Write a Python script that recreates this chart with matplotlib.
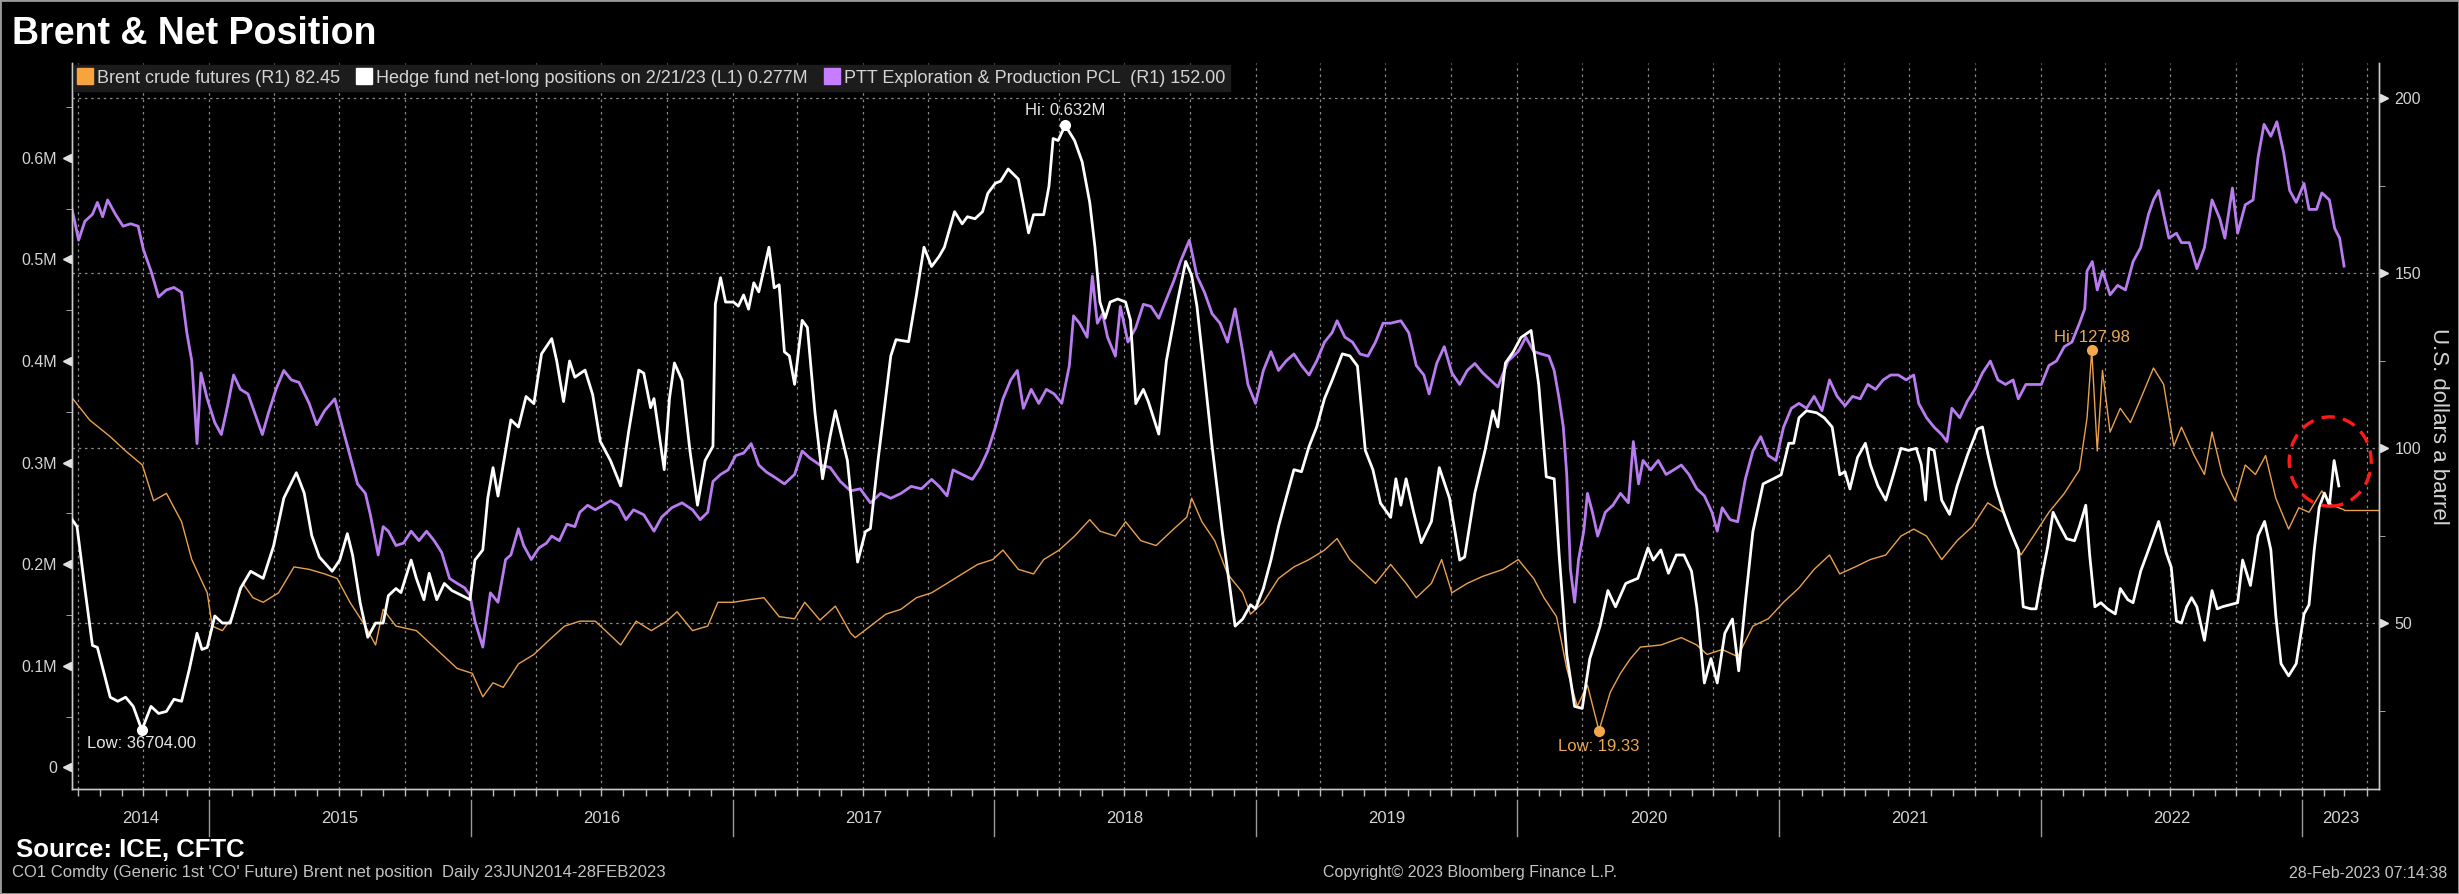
import matplotlib
matplotlib.use("Agg")
import matplotlib.pyplot as plt
import matplotlib.dates as mdates
from matplotlib.patches import Ellipse, Rectangle
from matplotlib.lines import Line2D
from matplotlib.ticker import NullFormatter, FixedLocator
from matplotlib.transforms import ScaledTranslation
from datetime import datetime, timedelta

plt.rcParams['font.family'] = ['Liberation Sans', 'DejaVu Sans']

# dates are decimal years
brent_t = [2014.475, 2014.543, 2014.621, 2014.680, 2014.744, 2014.787, 2014.836, 2014.894, 2014.933, 2014.992,
           2015.011, 2015.050, 2015.089, 2015.128, 2015.167, 2015.206, 2015.265, 2015.324, 2015.382, 2015.441,
           2015.489, 2015.538, 2015.597, 2015.636, 2015.665, 2015.714, 2015.792, 2015.870, 2015.948, 2016.006,
           2016.046, 2016.085, 2016.124, 2016.182, 2016.241, 2016.299, 2016.358, 2016.416, 2016.475, 2016.514,
           2016.572, 2016.631, 2016.689, 2016.748, 2016.787, 2016.846, 2016.904, 2016.943, 2017.002, 2017.060,
           2017.119, 2017.177, 2017.236, 2017.275, 2017.333, 2017.392, 2017.450, 2017.468, 2017.526, 2017.585,
           2017.643, 2017.702, 2017.760, 2017.819, 2017.877, 2017.936, 2017.994, 2018.033, 2018.092, 2018.150,
           2018.189, 2018.248, 2018.307, 2018.365, 2018.404, 2018.463, 2018.502, 2018.560, 2018.619, 2018.677,
           2018.736, 2018.755, 2018.794, 2018.843, 2018.892, 2018.950, 2018.980, 2019.029, 2019.087, 2019.146,
           2019.204, 2019.263, 2019.311, 2019.360, 2019.419, 2019.458, 2019.516, 2019.575, 2019.614, 2019.672,
           2019.711, 2019.750, 2019.809, 2019.868, 2019.946, 2020.004, 2020.063, 2020.102, 2020.150, 2020.189,
           2020.229, 2020.268, 2020.312, 2020.355, 2020.394, 2020.431, 2020.470, 2020.548, 2020.626, 2020.685,
           2020.724, 2020.782, 2020.841, 2020.899, 2020.958, 2021.016, 2021.075, 2021.133, 2021.192, 2021.231,
           2021.290, 2021.348, 2021.407, 2021.465, 2021.514, 2021.563, 2021.621, 2021.680, 2021.738, 2021.797,
           2021.855, 2021.924, 2021.972, 2022.031, 2022.090, 2022.148, 2022.177, 2022.195, 2022.216, 2022.236,
           2022.265, 2022.304, 2022.343, 2022.382, 2022.431, 2022.470, 2022.509, 2022.538, 2022.587, 2022.626,
           2022.655, 2022.694, 2022.743, 2022.782, 2022.821, 2022.860, 2022.899, 2022.948, 2022.987, 2023.026,
           2023.075, 2023.114, 2023.159]
brent_v = [114.4, 108.0, 103.3, 99.2, 95.2, 85.0, 87.1, 79.0, 68.2, 58.7,
           49.2, 47.9, 51.9, 61.4, 57.3, 56.0, 58.7, 66.1, 65.4, 64.1,
           62.8, 56.0, 49.2, 43.8, 54.0, 49.2, 47.9, 42.5, 37.1, 35.7,
           29.0, 33.0, 31.7, 38.4, 41.1, 45.2, 49.2, 50.6, 50.6, 47.9,
           43.8, 50.6, 47.9, 50.6, 53.3, 47.9, 49.2, 56.0, 56.0, 56.7,
           57.3, 51.9, 51.3, 56.0, 50.9, 54.9, 47.2, 45.9, 49.2, 52.6,
           54.0, 57.3, 58.7, 61.4, 64.1, 66.8, 68.2, 70.9, 65.4, 64.1,
           68.2, 70.9, 74.9, 79.6, 76.3, 74.9, 79.0, 73.6, 72.2, 76.3,
           80.3, 85.7, 79.0, 73.6, 64.1, 58.7, 52.6, 56.0, 62.8, 66.1,
           68.2, 70.9, 74.2, 68.2, 64.1, 61.4, 66.8, 61.4, 57.3, 61.4,
           68.2, 58.7, 61.4, 63.4, 65.4, 68.2, 62.8, 57.3, 51.9, 37.1,
           26.3, 32.3, 19.33, 30.3, 35.7, 39.8, 43.2, 43.8, 45.9, 43.8,
           41.1, 42.5, 40.5, 49.2, 51.3, 56.0, 60.1, 65.4, 69.5, 64.1,
           66.1, 68.2, 69.5, 74.9, 76.9, 74.9, 68.2, 73.6, 77.6, 84.4,
           81.7, 69.5, 74.9, 81.7, 87.1, 93.8, 108.7, 127.98, 99.2, 122.2,
           104.6, 111.4, 107.3, 114.1, 122.9, 118.2, 100.6, 106.0, 97.9, 92.5,
           104.6, 92.5, 85.0, 95.2, 92.5, 97.9, 85.7, 76.9, 83.0, 81.7,
           87.8, 83.7, 82.45]

hedge_t = [2014.475, 2014.494, 2014.524, 2014.553, 2014.572, 2014.621, 2014.650, 2014.680, 2014.709, 2014.742,
           2014.777, 2014.806, 2014.836, 2014.865, 2014.894, 2014.924, 2014.953, 2014.972, 2014.992, 2015.021,
           2015.050, 2015.080, 2015.119, 2015.158, 2015.206, 2015.246, 2015.285, 2015.333, 2015.363, 2015.392,
           2015.421, 2015.470, 2015.499, 2015.528, 2015.548, 2015.577, 2015.606, 2015.636, 2015.665, 2015.685,
           2015.714, 2015.733, 2015.772, 2015.792, 2015.821, 2015.841, 2015.870, 2015.899, 2015.928, 2015.967,
           2015.997, 2016.016, 2016.046, 2016.065, 2016.085, 2016.104, 2016.124, 2016.153, 2016.182, 2016.211,
           2016.241, 2016.270, 2016.309, 2016.328, 2016.354, 2016.377, 2016.397, 2016.436, 2016.465, 2016.494,
           2016.533, 2016.572, 2016.602, 2016.641, 2016.660, 2016.686, 2016.699, 2016.738, 2016.758, 2016.777,
           2016.806, 2016.836, 2016.865, 2016.894, 2016.924, 2016.933, 2016.953, 2016.972, 2017.002, 2017.021,
           2017.041, 2017.060, 2017.080, 2017.099, 2017.138, 2017.158, 2017.177, 2017.197, 2017.216, 2017.236,
           2017.265, 2017.285, 2017.314, 2017.343, 2017.372, 2017.392, 2017.438, 2017.477, 2017.507, 2017.526,
           2017.555, 2017.604, 2017.624, 2017.672, 2017.702, 2017.731, 2017.760, 2017.789, 2017.809, 2017.848,
           2017.877, 2017.897, 2017.926, 2017.955, 2017.975, 2018.004, 2018.024, 2018.053, 2018.092, 2018.111,
           2018.131, 2018.150, 2018.189, 2018.209, 2018.225, 2018.244, 2018.271, 2018.307, 2018.336, 2018.365,
           2018.385, 2018.404, 2018.424, 2018.443, 2018.472, 2018.502, 2018.521, 2018.541, 2018.570, 2018.589,
           2018.629, 2018.658, 2018.697, 2018.732, 2018.755, 2018.775, 2018.804, 2018.833, 2018.872, 2018.921,
           2018.950, 2018.980, 2018.999, 2019.029, 2019.058, 2019.087, 2019.116, 2019.146, 2019.175, 2019.204,
           2019.233, 2019.263, 2019.292, 2019.331, 2019.360, 2019.389, 2019.419, 2019.448, 2019.477, 2019.516,
           2019.536, 2019.555, 2019.575, 2019.604, 2019.633, 2019.672, 2019.702, 2019.741, 2019.780, 2019.799,
           2019.838, 2019.877, 2019.907, 2019.926, 2019.955, 2019.985, 2020.014, 2020.053, 2020.082, 2020.111,
           2020.141, 2020.160, 2020.189, 2020.219, 2020.248, 2020.277, 2020.316, 2020.346, 2020.375, 2020.414,
           2020.460, 2020.499, 2020.519, 2020.548, 2020.577, 2020.607, 2020.636, 2020.665, 2020.685, 2020.714,
           2020.739, 2020.763, 2020.792, 2020.821, 2020.845, 2020.870, 2020.899, 2020.938, 2020.977, 2021.007,
           2021.036, 2021.055, 2021.075, 2021.104, 2021.143, 2021.172, 2021.202, 2021.231, 2021.251, 2021.270,
           2021.299, 2021.329, 2021.348, 2021.377, 2021.407, 2021.436, 2021.465, 2021.494, 2021.524, 2021.543,
           2021.559, 2021.572, 2021.592, 2021.621, 2021.651, 2021.680, 2021.719, 2021.758, 2021.777, 2021.797,
           2021.826, 2021.855, 2021.885, 2021.914, 2021.933, 2021.963, 2021.982, 2022.008, 2022.027, 2022.047,
           2022.070, 2022.099, 2022.129, 2022.148, 2022.172, 2022.187, 2022.207, 2022.230, 2022.255, 2022.285,
           2022.304, 2022.333, 2022.353, 2022.382, 2022.412, 2022.451, 2022.480, 2022.499, 2022.519, 2022.538,
           2022.558, 2022.577, 2022.597, 2022.626, 2022.655, 2022.675, 2022.694, 2022.724, 2022.753, 2022.772,
           2022.802, 2022.831, 2022.856, 2022.880, 2022.899, 2022.919, 2022.948, 2022.977, 2023.007, 2023.026,
           2023.046, 2023.065, 2023.085, 2023.104, 2023.122, 2023.140]
hedge_v = [0.244, 0.237, 0.176, 0.120, 0.118, 0.069, 0.065, 0.069, 0.060, 0.0367,
           0.060, 0.053, 0.055, 0.067, 0.065, 0.097, 0.132, 0.116, 0.118, 0.149,
           0.142, 0.142, 0.176, 0.193, 0.186, 0.218, 0.265, 0.290, 0.270, 0.228,
           0.207, 0.193, 0.204, 0.230, 0.209, 0.162, 0.128, 0.142, 0.142, 0.169,
           0.176, 0.172, 0.204, 0.186, 0.165, 0.191, 0.165, 0.181, 0.174, 0.169,
           0.165, 0.204, 0.214, 0.265, 0.295, 0.267, 0.298, 0.342, 0.335, 0.365,
           0.358, 0.407, 0.422, 0.400, 0.360, 0.400, 0.384, 0.391, 0.367, 0.321,
           0.302, 0.277, 0.330, 0.391, 0.388, 0.354, 0.363, 0.293, 0.363, 0.398,
           0.381, 0.312, 0.258, 0.302, 0.316, 0.456, 0.482, 0.458, 0.458, 0.454,
           0.465, 0.451, 0.477, 0.468, 0.512, 0.472, 0.475, 0.409, 0.405, 0.377,
           0.440, 0.433, 0.349, 0.284, 0.326, 0.351, 0.302, 0.202, 0.232, 0.235,
           0.302, 0.405, 0.421, 0.419, 0.465, 0.512, 0.493, 0.503, 0.512, 0.547,
           0.535, 0.542, 0.540, 0.547, 0.565, 0.575, 0.577, 0.589, 0.579, 0.554,
           0.526, 0.544, 0.544, 0.572, 0.619, 0.617, 0.632, 0.617, 0.596, 0.556,
           0.512, 0.458, 0.442, 0.458, 0.461, 0.458, 0.440, 0.358, 0.372, 0.360,
           0.328, 0.400, 0.454, 0.498, 0.484, 0.454, 0.386, 0.316, 0.232, 0.139,
           0.146, 0.160, 0.156, 0.176, 0.204, 0.237, 0.265, 0.293, 0.291, 0.316,
           0.335, 0.363, 0.381, 0.407, 0.405, 0.395, 0.312, 0.293, 0.260, 0.246,
           0.284, 0.258, 0.284, 0.251, 0.221, 0.242, 0.295, 0.265, 0.204, 0.207,
           0.270, 0.312, 0.351, 0.335, 0.398, 0.409, 0.423, 0.430, 0.377, 0.286,
           0.284, 0.209, 0.111, 0.060, 0.058, 0.107, 0.139, 0.174, 0.158, 0.181,
           0.186, 0.216, 0.204, 0.214, 0.191, 0.209, 0.209, 0.193, 0.158, 0.083,
           0.107, 0.083, 0.132, 0.146, 0.095, 0.162, 0.232, 0.279, 0.284, 0.288,
           0.319, 0.319, 0.344, 0.351, 0.349, 0.344, 0.335, 0.288, 0.291, 0.274,
           0.305, 0.319, 0.298, 0.277, 0.263, 0.288, 0.314, 0.312, 0.314, 0.298,
           0.263, 0.314, 0.312, 0.263, 0.249, 0.277, 0.307, 0.333, 0.335, 0.309,
           0.277, 0.253, 0.232, 0.214, 0.158, 0.156, 0.156, 0.193, 0.218, 0.251,
           0.239, 0.225, 0.223, 0.237, 0.258, 0.209, 0.158, 0.162, 0.156, 0.151,
           0.176, 0.165, 0.162, 0.193, 0.214, 0.242, 0.211, 0.197, 0.144, 0.142,
           0.158, 0.167, 0.158, 0.125, 0.174, 0.156, 0.158, 0.160, 0.162, 0.204,
           0.179, 0.228, 0.242, 0.214, 0.149, 0.102, 0.090, 0.102, 0.151, 0.160,
           0.214, 0.256, 0.270, 0.258, 0.302, 0.277]

ptt_t = [2014.475, 2014.485, 2014.500, 2014.524, 2014.553, 2014.572, 2014.592, 2014.611, 2014.641, 2014.670,
         2014.699, 2014.728, 2014.748, 2014.777, 2014.806, 2014.836, 2014.865, 2014.894, 2014.914, 2014.933,
         2014.953, 2014.968, 2014.992, 2015.021, 2015.046, 2015.070, 2015.093, 2015.119, 2015.148, 2015.177,
         2015.203, 2015.226, 2015.255, 2015.285, 2015.314, 2015.343, 2015.382, 2015.411, 2015.441, 2015.480,
         2015.509, 2015.538, 2015.567, 2015.597, 2015.616, 2015.646, 2015.665, 2015.685, 2015.714, 2015.743,
         2015.772, 2015.802, 2015.831, 2015.860, 2015.889, 2015.919, 2015.948, 2015.977, 2015.997, 2016.016,
         2016.046, 2016.075, 2016.104, 2016.133, 2016.153, 2016.182, 2016.202, 2016.231, 2016.260, 2016.289,
         2016.309, 2016.338, 2016.367, 2016.397, 2016.416, 2016.446, 2016.475, 2016.504, 2016.533, 2016.563,
         2016.592, 2016.621, 2016.660, 2016.699, 2016.728, 2016.767, 2016.806, 2016.846, 2016.875, 2016.904,
         2016.924, 2016.953, 2016.982, 2017.011, 2017.041, 2017.070, 2017.099, 2017.128, 2017.158, 2017.197,
         2017.236, 2017.265, 2017.294, 2017.333, 2017.372, 2017.411, 2017.450, 2017.487, 2017.526, 2017.565,
         2017.604, 2017.643, 2017.682, 2017.721, 2017.760, 2017.789, 2017.819, 2017.842, 2017.877, 2017.916,
         2017.946, 2017.975, 2018.004, 2018.033, 2018.063, 2018.088, 2018.111, 2018.141, 2018.170, 2018.199,
         2018.229, 2018.258, 2018.287, 2018.303, 2018.326, 2018.355, 2018.375, 2018.394, 2018.414, 2018.433,
         2018.463, 2018.482, 2018.511, 2018.541, 2018.570, 2018.599, 2018.629, 2018.658, 2018.687, 2018.712,
         2018.746, 2018.775, 2018.804, 2018.833, 2018.863, 2018.892, 2018.921, 2018.950, 2018.970, 2018.999,
         2019.029, 2019.058, 2019.087, 2019.116, 2019.146, 2019.175, 2019.204, 2019.233, 2019.263, 2019.292,
         2019.311, 2019.341, 2019.370, 2019.399, 2019.429, 2019.458, 2019.487, 2019.516, 2019.555, 2019.585,
         2019.614, 2019.643, 2019.663, 2019.692, 2019.721, 2019.750, 2019.780, 2019.809, 2019.838, 2019.868,
         2019.897, 2019.926, 2019.965, 2020.004, 2020.033, 2020.063, 2020.092, 2020.121, 2020.141, 2020.160,
         2020.176, 2020.189, 2020.203, 2020.219, 2020.234, 2020.254, 2020.268, 2020.287, 2020.307, 2020.336,
         2020.365, 2020.394, 2020.424, 2020.443, 2020.463, 2020.480, 2020.509, 2020.538, 2020.568, 2020.597,
         2020.626, 2020.655, 2020.685, 2020.714, 2020.743, 2020.763, 2020.782, 2020.812, 2020.841, 2020.870,
         2020.899, 2020.929, 2020.958, 2020.987, 2021.016, 2021.046, 2021.075, 2021.104, 2021.133, 2021.163,
         2021.192, 2021.221, 2021.251, 2021.280, 2021.309, 2021.338, 2021.368, 2021.397, 2021.426, 2021.455,
         2021.485, 2021.514, 2021.533, 2021.563, 2021.592, 2021.621, 2021.641, 2021.660, 2021.690, 2021.719,
         2021.748, 2021.777, 2021.807, 2021.836, 2021.865, 2021.894, 2021.914, 2021.943, 2021.972, 2022.002,
         2022.031, 2022.060, 2022.090, 2022.119, 2022.148, 2022.168, 2022.177, 2022.197, 2022.216, 2022.236,
         2022.265, 2022.294, 2022.324, 2022.353, 2022.382, 2022.412, 2022.431, 2022.451, 2022.470, 2022.490,
         2022.519, 2022.538, 2022.568, 2022.597, 2022.626, 2022.655, 2022.685, 2022.704, 2022.733, 2022.753,
         2022.782, 2022.812, 2022.831, 2022.854, 2022.880, 2022.903, 2022.929, 2022.952, 2022.977, 2023.007,
         2023.026, 2023.055, 2023.075, 2023.104, 2023.124, 2023.143, 2023.160]
ptt_v = [168.2, 164.8, 159.4, 164.8, 166.8, 170.2, 166.1, 170.9, 166.8, 163.4,
         164.1, 163.4, 156.7, 150.6, 143.2, 145.2, 145.9, 144.5, 133.0, 124.9,
         101.3, 121.5, 114.1, 107.3, 103.9, 112.1, 120.9, 116.8, 115.5, 109.4,
         103.9, 110.0, 116.8, 122.2, 119.5, 118.8, 112.8, 106.7, 110.7, 114.1,
         106.0, 97.9, 89.8, 87.1, 81.0, 69.5, 77.6, 76.3, 72.2, 72.9,
         76.3, 73.6, 76.3, 73.6, 70.2, 62.8, 61.4, 60.1, 58.0, 50.6,
         43.2, 58.7, 56.0, 68.2, 69.5, 77.0, 72.2, 68.2, 71.5, 72.9,
         74.9, 73.6, 78.3, 77.6, 81.7, 83.7, 82.4, 83.7, 85.0, 83.7,
         79.6, 82.4, 81.0, 76.3, 80.3, 83.0, 84.4, 82.4, 79.6, 81.7,
         90.5, 92.5, 93.8, 97.9, 98.6, 101.3, 95.2, 93.2, 91.8, 89.8,
         92.5, 99.2, 97.2, 95.2, 94.5, 90.5, 87.8, 88.4, 84.4, 87.1,
         85.7, 87.1, 89.1, 88.4, 91.1, 89.1, 86.4, 93.8, 92.5, 91.1,
         94.5, 99.2, 106.0, 114.1, 119.5, 122.2, 111.4, 116.8, 112.8, 116.8,
         115.5, 112.8, 123.6, 137.8, 135.7, 131.7, 149.2, 135.7, 138.4, 131.7,
         126.3, 140.5, 130.3, 134.4, 141.1, 140.5, 137.1, 142.5, 147.9, 153.3,
         159.4, 149.2, 144.5, 138.4, 135.7, 130.3, 139.8, 127.6, 118.2, 112.8,
         122.2, 127.6, 122.2, 124.9, 126.9, 123.6, 120.9, 124.9, 130.3, 133.0,
         136.4, 131.7, 130.3, 126.9, 126.3, 130.3, 135.7, 135.7, 136.4, 133.0,
         123.6, 120.9, 115.5, 124.2, 129.0, 121.5, 118.2, 122.2, 124.2, 121.5,
         119.5, 117.5, 124.9, 127.6, 131.7, 127.6, 126.9, 126.3, 122.2, 114.1,
         106.0, 92.5, 65.4, 56.0, 68.2, 76.3, 87.1, 81.7, 74.9, 81.7,
         83.7, 87.1, 84.4, 101.9, 89.8, 96.5, 93.8, 96.5, 92.5, 93.8,
         95.2, 92.5, 88.4, 86.4, 81.7, 76.3, 83.0, 79.6, 79.0, 91.1,
         99.2, 103.3, 97.9, 96.5, 106.0, 111.4, 112.8, 111.4, 114.8, 110.7,
         119.5, 114.8, 112.1, 114.8, 114.1, 118.2, 116.8, 119.5, 120.9, 120.9,
         119.5, 120.9, 112.8, 108.7, 106.0, 103.9, 101.9, 111.4, 108.7, 113.4,
         116.8, 121.5, 124.9, 119.5, 118.2, 119.5, 114.1, 118.2, 118.2, 118.2,
         123.6, 124.9, 129.0, 130.3, 135.7, 139.8, 150.6, 153.3, 145.2, 150.6,
         143.8, 146.5, 145.2, 153.3, 157.3, 166.8, 170.9, 173.6, 166.8, 160.0,
         161.4, 158.7, 158.7, 151.3, 157.3, 170.9, 165.5, 160.0, 174.3, 161.4,
         169.5, 170.9, 183.0, 192.5, 189.1, 193.2, 184.4, 173.6, 170.2, 175.6,
         168.2, 168.2, 172.9, 170.9, 162.8, 160.0, 152.0]

x_range = [2014.475, 2023.294]
left_ticks = [0, 0.1, 0.2, 0.3, 0.4, 0.5, 0.6]
left_labels = ['0', '0.1M', '0.2M', '0.3M', '0.4M', '0.5M', '0.6M']
right_ticks = [50, 100, 150, 200]
years = list(range(2014, 2024))

ORANGE = '#e9a14e'
PURPLE = '#b97cf0'
GRID = '#8a8a8a'
TXT = '#d4d4d4'


def to_dates(ys):
    out = []
    for y in ys:
        yi = int(y)
        start = datetime(yi, 1, 1)
        ndays = (datetime(yi + 1, 1, 1) - start).days
        out.append(start + timedelta(days=(y - yi) * ndays))
    return out


bd, hd, pd_ = to_dates(brent_t), to_dates(hedge_t), to_dates(ptt_t)
x0, x1 = to_dates(x_range)

fig = plt.figure(figsize=(24.59, 8.94), dpi=100, facecolor='black')
ax = fig.add_axes([0.0293, 0.1174, 0.9382, 0.8121])
ax2 = ax.twinx()
ax.set_zorder(ax2.get_zorder() + 1)
ax.patch.set_visible(False)
ax2.set_facecolor('black')

ax.set_xlim(x0, x1)
ax.set_ylim(-0.0214, 0.6933)
ax2.set_ylim(2.66, 210)

# grid: quarter starts and right-axis majors
for yr in range(2014, 2024):
    for m in (1, 4, 7, 10):
        d = datetime(yr, m, 1)
        if x0 < d < x1:
            ax2.axvline(d, color=GRID, lw=0.9, ls=(0, (2, 3)), zorder=0)
for v in right_ticks:
    ax2.axhline(v, color=GRID, lw=0.9, ls=(0, (2, 3)), zorder=0)

# series
ax2.plot(bd, brent_v, color=ORANGE, lw=1.0, zorder=2)
ax2.plot([bd[-1], x1], [brent_v[-1], brent_v[-1]], color=ORANGE, lw=1.0, zorder=2)
ax2.plot(pd_, ptt_v, color=PURPLE, lw=2.0, zorder=3)
ax.plot(hd, hedge_v, color='white', lw=2.0, zorder=4)

# hi / low markers
i_lo = hedge_v.index(min(hedge_v))
i_hi = hedge_v.index(max(hedge_v))
ax.plot([hd[i_lo], hd[i_hi]], [hedge_v[i_lo], hedge_v[i_hi]], 'o', color='white', ms=7, zorder=5)
ax.annotate('Low: 36704.00', (hd[i_lo], hedge_v[i_lo]), xytext=(0, -10), textcoords='offset points',
            ha='center', va='center', color='#e6e6e6', fontsize=12)
ax.annotate('Hi: 0.632M', (hd[i_hi], hedge_v[i_hi]), xytext=(0, 11), textcoords='offset points',
            ha='center', va='center', color='#e6e6e6', fontsize=12)
b_lo = brent_v.index(min(brent_v))
b_hi = brent_v.index(max(brent_v))
ax2.plot([bd[b_lo], bd[b_hi]], [brent_v[b_lo], brent_v[b_hi]], 'o', color='#f4a84a', ms=7, zorder=5)
ax2.annotate('Low: 19.33', (bd[b_lo], brent_v[b_lo]), xytext=(0, -11.5), textcoords='offset points',
             ha='center', va='center', color='#e9a857', fontsize=12)
ax2.annotate('Hi: 127.98', (bd[b_hi], brent_v[b_hi]), xytext=(0, 9.5), textcoords='offset points',
             ha='center', va='center', color='#e9a857', fontsize=12)

# red dashed circle
circ_c = to_dates([2023.107])[0]
ell = Ellipse((mdates.date2num(circ_c), 96.2), width=114.5, height=25.5, transform=ax2.transData,
              fill=False, edgecolor='#ff1a1a', lw=2.4, ls=(0, (4, 2.5)), zorder=10)
ax.add_patch(ell)

# spines
for a in (ax, ax2):
    a.spines['top'].set_visible(False)
    for s in ('left', 'right', 'bottom'):
        a.spines[s].set_color('#c8c8c8')
        a.spines[s].set_linewidth(1.0)

# x ticks: months, year labels below
ax.xaxis.set_major_locator(mdates.MonthLocator())
ax.xaxis.set_major_formatter(NullFormatter())
ax.tick_params(axis='x', which='major', direction='out', length=5, color='#bbbbbb', width=1)
xt = ax.get_xaxis_transform()
for yr in years:
    a = max(datetime(yr, 1, 1), x0)
    b = min(datetime(yr + 1, 1, 1), x1)
    mid = a + (b - a) / 2
    ax.text(mid, -0.040, str(yr), transform=xt, ha='center', va='center', color=TXT, fontsize=12)
    if yr > 2014:
        ax.add_line(Line2D([datetime(yr, 1, 1)] * 2, [-0.015, -0.065], transform=xt, color='#9a9a9a',
                           lw=1, clip_on=False))

# left axis
ax.yaxis.set_major_locator(FixedLocator(left_ticks))
ax.set_yticklabels(left_labels)
ax.yaxis.set_minor_locator(FixedLocator([0.05, 0.15, 0.25, 0.35, 0.45, 0.55, 0.65]))
ax.tick_params(axis='y', which='major', length=0, pad=11, labelcolor=TXT, labelsize=11.5)
ax.tick_params(axis='y', which='minor', length=4, color='#bbbbbb', direction='out')
ax.plot([0] * len(left_ticks), left_ticks, ls='none', marker='<', ms=6, color='#e0e0e0', clip_on=False,
        transform=ax.get_yaxis_transform() + ScaledTranslation(-0.05, 0, fig.dpi_scale_trans), zorder=6)

# right axis
ax2.yaxis.set_major_locator(FixedLocator(right_ticks))
ax2.yaxis.set_minor_locator(FixedLocator([25, 75, 125, 175]))
ax2.tick_params(axis='y', which='major', length=0, pad=11, labelcolor=TXT, labelsize=11.5)
ax2.tick_params(axis='y', which='minor', length=4, color='#bbbbbb', direction='out')
ax2.plot([1] * len(right_ticks), right_ticks, ls='none', marker='>', ms=6, color='#e0e0e0', clip_on=False,
         transform=ax2.get_yaxis_transform() + ScaledTranslation(0.05, 0, fig.dpi_scale_trans), zorder=6)
ax2.set_ylabel('U.S. dollars a barrel', rotation=270, color=TXT, fontsize=16, labelpad=20)

# legend
handles = [Line2D([], [], ls='none', marker='s', ms=11, color='#f7a33e'),
           Line2D([], [], ls='none', marker='s', ms=11, color='white'),
           Line2D([], [], ls='none', marker='s', ms=11, color='#c77dff')]
labels = ['Brent crude futures (R1) 82.45',
          'Hedge fund net-long positions on 2/21/23 (L1) 0.277M',
          'PTT Exploration & Production PCL  (R1) 152.00']
leg = ax.legend(handles, labels, loc='upper left', bbox_to_anchor=(0.001, 0.997), ncol=3, fontsize=13,
                frameon=True, facecolor='#1c1c1c', edgecolor='#1c1c1c', framealpha=1, fancybox=False,
                borderpad=0.25, handlelength=0.7, handletextpad=0.3, columnspacing=1.0, borderaxespad=0)
for t in leg.get_texts():
    t.set_color(TXT)
leg.set_zorder(20)

# titles and footer
fig.text(12 / 2459, 1 - 44 / 894, 'Brent & Net Position', color='white', fontsize=27, fontweight='bold',
         ha='left', va='baseline')
fig.text(16 / 2459, 1 - 857 / 894, 'Source: ICE, CFTC', color='white', fontsize=18.5, fontweight='bold',
         ha='left', va='baseline')
fig.text(12 / 2459, 1 - 873 / 894,
         "CO1 Comdty (Generic 1st 'CO' Future) Brent net position  Daily 23JUN2014-28FEB2023",
         color='#c4c4c4', fontsize=12, ha='left', va='center')
fig.text(1470 / 2459, 1 - 873 / 894, 'Copyright\u00a9 2023 Bloomberg Finance L.P.', color='#c4c4c4',
         fontsize=11.5, ha='center', va='center')
fig.text(2447 / 2459, 1 - 873 / 894, '28-Feb-2023 07:14:38', color='#c4c4c4', fontsize=11.5,
         ha='right', va='center')

fig.add_artist(Rectangle((0, 0), 1, 1, transform=fig.transFigure, fill=False, edgecolor='#9a9a9a', lw=2))

fig.savefig('out.png', dpi=100, facecolor='black')
